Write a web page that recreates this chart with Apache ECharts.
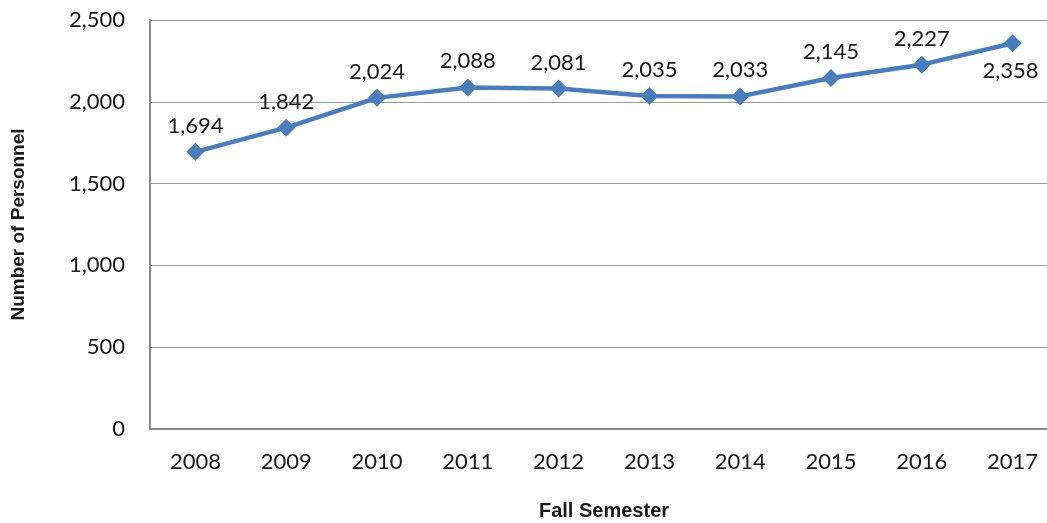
<!DOCTYPE html>
<html>
<head>
<meta charset="utf-8">
<script src="https://cdn.jsdelivr.net/npm/echarts@6/dist/echarts.min.js"></script>
<style>
  html, body { margin: 0; padding: 0; background: #fff; }
  #chart { width: 1047px; height: 523px; }
</style>
</head>
<body>
<div id="chart"></div>
<script>
var years = ['2008', '2009', '2010', '2011', '2012', '2013', '2014', '2015', '2016', '2017'];
var personnel = [1694, 1842, 2024, 2088, 2081, 2035, 2033, 2145, 2227, 2358];
var yTicks = [0, 500, 1000, 1500, 2000, 2500];

var labelFont = 'Lato, "Open Sans", sans-serif';
var titleFont = '"Liberation Sans", Arial, sans-serif';

function fmt(v) {
    return String(v).replace(/\B(?=(\d{3})+(?!\d))/g, ',');
}

var points = personnel.map(function (v, i) {
    var item = { value: v };
    if (i === personnel.length - 1) {
        item.label = { position: 'bottom', offset: [-2, 2] };
    }
    return item;
});

var chart = echarts.init(document.getElementById('chart'));
chart.setOption({
    animation: false,
    grid: { left: 150, right: -11, top: 20, bottom: 94, outerBoundsMode: 'none', containLabel: false },
    xAxis: {
        type: 'category',
        data: years,
        boundaryGap: true,
        name: 'Fall Semester',
        nameLocation: 'middle',
        nameGap: 72,
        nameTextStyle: { fontFamily: titleFont, fontWeight: 'bold', fontSize: 20, color: '#1a1a1a' },
        axisLine: { lineStyle: { color: '#888', width: 2 } },
        axisTick: { show: false },
        axisLabel: { fontFamily: labelFont, fontSize: 22, color: '#1a1a1a', margin: 22 }
    },
    yAxis: {
        type: 'value',
        min: yTicks[0],
        max: yTicks[yTicks.length - 1],
        interval: 500,
        name: 'Number of Personnel',
        nameLocation: 'middle',
        nameRotate: 90,
        nameGap: 122,
        nameTextStyle: { fontFamily: titleFont, fontWeight: 'bold', fontSize: 19, color: '#1a1a1a' },
        axisLine: { show: true, lineStyle: { color: '#888', width: 2 } },
        axisTick: { show: false },
        splitLine: { lineStyle: { color: '#999', width: 1 } },
        axisLabel: { fontFamily: labelFont, fontSize: 22, color: '#1a1a1a', margin: 25, formatter: fmt }
    },
    series: [{
        type: 'line',
        data: points,
        symbol: 'diamond',
        symbolSize: 18,
        lineStyle: { color: '#4a7ebb', width: 4.5 },
        itemStyle: { color: '#4a7ebb' },
        label: {
            show: true,
            position: 'top',
            distance: 6,
            fontFamily: labelFont,
            fontSize: 22,
            color: '#1a1a1a',
            formatter: function (p) { return fmt(p.value); }
        }
    }]
});
</script>
</body>
</html>
